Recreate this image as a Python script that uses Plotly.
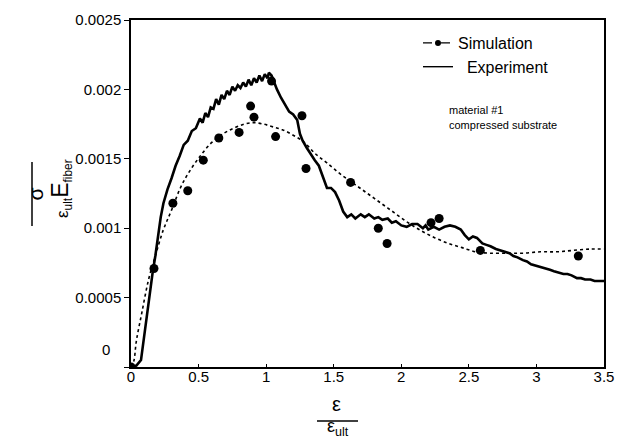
import plotly.graph_objects as go

# ---------------- data ----------------
exp_x = [0, 0.04, 0.074, 0.10, 0.13, 0.16, 0.18, 0.20, 0.22, 0.24, 0.27, 0.30, 0.33, 0.36,
         0.39, 0.42, 0.45, 0.48, 0.51, 0.53, 0.55, 0.57, 0.59, 0.61, 0.63, 0.65, 0.67, 0.69,
         0.71, 0.73, 0.75, 0.77, 0.79, 0.81, 0.83, 0.85, 0.87, 0.89, 0.91, 0.93, 0.95, 0.97,
         0.99, 1.01, 1.02, 1.04, 1.06, 1.08, 1.11, 1.14, 1.17, 1.20, 1.23, 1.25, 1.27, 1.30,
         1.33, 1.36, 1.39, 1.42, 1.45, 1.48, 1.51, 1.54, 1.57, 1.60, 1.63, 1.66, 1.70, 1.73,
         1.76, 1.80, 1.83, 1.86, 1.90, 1.93, 1.96, 2.00, 2.04, 2.08, 2.12, 2.16, 2.18, 2.20,
         2.24, 2.28, 2.32, 2.36, 2.40, 2.44, 2.47, 2.50, 2.53, 2.56, 2.60, 2.63, 2.66, 2.70,
         2.73, 2.76, 2.80, 2.83, 2.86, 2.90, 2.93, 2.96, 3.00, 3.03, 3.06, 3.10, 3.13, 3.16,
         3.20, 3.23, 3.26, 3.30, 3.33, 3.36, 3.40, 3.43, 3.46, 3.50]
exp_y = [0, 0.00001, 0.00005, 0.00025, 0.00048, 0.00068, 0.00080, 0.00096, 0.00108, 0.00118,
         0.00128, 0.00136, 0.00145, 0.00152, 0.00160, 0.00163, 0.00170, 0.00172, 0.00179,
         0.00176, 0.00183, 0.00180, 0.00187, 0.00186, 0.00193, 0.00189, 0.00196, 0.00193,
         0.00199, 0.00196, 0.00202, 0.00199, 0.00203, 0.00201, 0.00205, 0.00202, 0.00207,
         0.00203, 0.00208, 0.00205, 0.00210, 0.00206, 0.00211, 0.00208, 0.00212, 0.00210,
         0.00205, 0.00200, 0.00194, 0.00189, 0.00184, 0.00182, 0.00178, 0.00168, 0.00163,
         0.00158, 0.00153, 0.00149, 0.00145, 0.00137, 0.00129, 0.00129, 0.00126, 0.00120,
         0.00112, 0.00108, 0.00110, 0.00107, 0.00110, 0.00108, 0.00110, 0.00107, 0.00108,
         0.00106, 0.00107, 0.00104, 0.00105, 0.00102, 0.00101, 0.00103, 0.00103, 0.00100,
         0.00102, 0.00099, 0.00101, 0.00099, 0.00101, 0.00102, 0.00101, 0.00099, 0.00095,
         0.00092, 0.00094, 0.00093, 0.00089, 0.00088, 0.00087, 0.00085, 0.00084, 0.00083,
         0.00082, 0.00080, 0.00079, 0.00077, 0.00076, 0.00074, 0.00073, 0.00072, 0.00071,
         0.00070, 0.00069, 0.00068, 0.00067, 0.00067, 0.00066, 0.00064, 0.00064, 0.00063,
         0.00063, 0.00062, 0.00062, 0.00062]

sim_curve_x = [0, 0.02, 0.04, 0.08, 0.13, 0.18, 0.24, 0.30, 0.37, 0.44, 0.52, 0.60, 0.68,
               0.76, 0.84, 0.91, 0.98, 1.05, 1.12, 1.20, 1.28, 1.36, 1.45, 1.55, 1.65, 1.75,
               1.85, 1.95, 2.05, 2.15, 2.25, 2.35, 2.45, 2.55, 2.65, 2.78, 2.90, 3.03, 3.15,
               3.27, 3.40, 3.50]
sim_curve_y = [0, 0.00004, 0.00019, 0.00039, 0.00063, 0.00080, 0.00099, 0.00113, 0.00130,
               0.00142, 0.00153, 0.00162, 0.00168, 0.00172, 0.00175, 0.00176, 0.00175,
               0.00173, 0.00171, 0.00167, 0.00162, 0.00154, 0.00147, 0.00139, 0.00132,
               0.00125, 0.00118, 0.00111, 0.00104, 0.00098, 0.00093, 0.00089, 0.00086,
               0.00083, 0.00082, 0.00082, 0.00082, 0.00083, 0.00083, 0.00084, 0.00085, 0.00085]

sim_pts_x = [0, 0.17, 0.31, 0.42, 0.535, 0.65, 0.80, 0.885, 0.91, 1.04, 1.07, 1.265, 1.295,
             1.625, 1.83, 1.895, 2.22, 2.28, 2.585, 3.31]
sim_pts_y = [0, 0.00071, 0.00118, 0.00127, 0.00149, 0.00165, 0.00169, 0.00188, 0.00180,
             0.00206, 0.00166, 0.00181, 0.00143, 0.00133, 0.00100, 0.00089, 0.00104,
             0.00107, 0.00084, 0.00080]

x_ticks = [0, 0.5, 1, 1.5, 2, 2.5, 3, 3.5]
x_tick_text = ["0", "0.5", "1", "1.5", "2", "2.5", "3", "3.5"]
y_ticks = [0, 0.0005, 0.001, 0.0015, 0.002, 0.0025]
y_tick_text = ["", "0.0005", "0.001", "0.0015", "0.002", "0.0025"]

FONT = "Liberation Sans, Arial, sans-serif"

fig = go.Figure()
fig.add_trace(go.Scatter(x=sim_curve_x, y=sim_curve_y, mode="lines", showlegend=False,
                         line=dict(color="black", width=1.6, dash="dot", shape="spline")))
fig.add_trace(go.Scatter(x=exp_x, y=exp_y, mode="lines", showlegend=False,
                         line=dict(color="black", width=2.6)))
fig.add_trace(go.Scatter(x=sim_pts_x, y=sim_pts_y, mode="markers", showlegend=False,
                         marker=dict(color="black", size=9)))
# legend entries
fig.add_trace(go.Scatter(x=[None], y=[None], mode="lines+markers", name="Simulation",
                         line=dict(color="black", width=1.4, dash="dash"),
                         marker=dict(color="black", size=6)))
fig.add_trace(go.Scatter(x=[None], y=[None], mode="lines", name="  Experiment",
                         line=dict(color="black", width=1.4)))

L, R, T, B = 131, 27, 20, 73
W, H = 631, 440
pw, ph = W - L - R, H - T - B


def px_x(p):
    return (p - L) / pw


def px_y(p):
    return (H - B - p) / ph


fig.update_layout(
    width=W, height=H,
    margin=dict(l=L, r=R, t=T, b=B),
    paper_bgcolor="white", plot_bgcolor="white",
    font=dict(family=FONT, color="black", size=15),
    legend=dict(x=px_x(418), y=px_y(26), xanchor="left", yanchor="top",
                font=dict(size=16, family=FONT), bgcolor="rgba(0,0,0,0)",
                itemwidth=30, tracegroupgap=4),
    xaxis=dict(range=[0, 3.5], tickvals=x_ticks, ticktext=x_tick_text,
               showgrid=False, zeroline=False, showline=True, linecolor="black",
               linewidth=1.5, mirror=True, ticks="inside", ticklen=3,
               ticklabelstandoff=-5,
               tickcolor="black", tickfont=dict(size=15, family=FONT)),
    yaxis=dict(range=[0, 0.0025], tickvals=y_ticks, ticktext=y_tick_text,
               showgrid=False, zeroline=False, showline=True, linecolor="black",
               linewidth=1.5, mirror=True, ticks="outside", ticklen=5,
               tickcolor="black", tickfont=dict(size=15, family=FONT)),
)

ann = []
# y-axis zero label
ann.append(dict(x=px_x(100), y=px_y(360), xref="paper", yref="paper", text="0",
                showarrow=False, font=dict(size=15, family=FONT)))
# side notes
ann.append(dict(x=px_x(447), y=px_y(102), xref="paper", yref="paper", text="material #1",
                showarrow=False, xanchor="left", font=dict(size=11, family=FONT)))
ann.append(dict(x=px_x(447), y=px_y(117), xref="paper", yref="paper",
                text="compressed substrate", showarrow=False, xanchor="left",
                font=dict(size=11, family=FONT)))
# y-axis label (rotated fraction)
ann.append(dict(x=px_x(21), y=px_y(194), xref="paper", yref="paper", text="σ",
                showarrow=False, textangle=-90, font=dict(size=21, family=FONT)))
ann.append(dict(x=px_x(45), y=px_y(189), xref="paper", yref="paper",
                text="ε<sub>ult</sub><span style='font-size:23px'>E</span><sub>fiber</sub>",
                showarrow=False, textangle=-90, font=dict(size=17, family=FONT)))
# x-axis label (fraction)
ann.append(dict(x=px_x(336), y=px_y(417), xref="paper", yref="paper", text="ε",
                showarrow=False, yanchor="bottom", font=dict(size=20, family=FONT)))
ann.append(dict(x=px_x(338), y=px_y(441), xref="paper", yref="paper",
                text="ε<sub>ult</sub>", showarrow=False, yanchor="bottom",
                font=dict(size=18, family=FONT)))
fig.update_layout(annotations=ann)

fig.add_shape(type="line", xref="paper", yref="paper",
              x0=px_x(32), x1=px_x(32), y0=px_y(162), y1=px_y(226),
              line=dict(color="black", width=1.5))
fig.add_shape(type="line", xref="paper", yref="paper",
              x0=px_x(317), x1=px_x(358), y0=px_y(421), y1=px_y(421),
              line=dict(color="black", width=1.5))

fig.write_html("out.html")
